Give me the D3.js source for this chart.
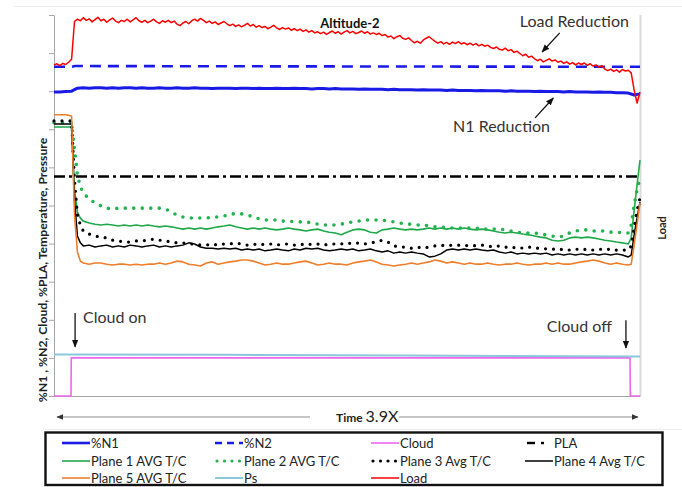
<!DOCTYPE html>
<html>
<head>
<meta charset="utf-8">
<script src="https://cdn.jsdelivr.net/npm/d3@7/dist/d3.min.js"></script>
<style>
  html, body { margin: 0; padding: 0; background: #fff; }
  svg { display: block; font-family: Lato, "Open Sans", "Liberation Sans", sans-serif; }
</style>
</head>
<body>
<svg id="chart" width="682" height="487"></svg>
<script>
// ---------------- data (time as % of run, values on the 0-100 chart scale) ----------------
const loadStep = 0.5;   // Load sampled every 0.5 time units
const n1Step = 1;       // %N1 sampled every time unit

const load = [
  86.9, 87.2, 86.7, 87.3, 87.0, 87.6, 88.4, 98.3, 98.9, 98.5,
  99.3, 98.6, 99.0, 98.2, 98.8, 99.4, 98.5, 98.9, 98.1, 98.7,
  99.2, 98.4, 98.0, 98.6, 98.3, 98.9, 98.2, 98.7, 99.3, 98.5,
  98.1, 98.6, 98.0, 98.4, 98.9, 98.2, 97.8, 98.5, 98.1, 98.6,
  98.0, 98.4, 97.6, 97.2, 97.9, 98.3, 97.7, 98.5, 98.9, 98.4,
  99.1, 98.6, 98.0, 98.4, 97.8, 98.2, 97.5, 97.9, 98.3, 97.7,
  97.2, 97.6, 97.0, 97.4, 96.9, 97.3, 97.8, 97.1, 97.5, 96.8,
  97.2, 96.7, 97.0, 96.4, 96.8, 97.3, 96.6, 96.2, 96.7, 96.3,
  96.6, 96.0, 96.4, 95.9, 96.3, 95.7, 96.1, 95.5, 95.9, 95.3,
  95.6, 95.1, 95.5, 94.9, 95.4, 95.8, 95.2, 95.6, 95.0, 95.5,
  95.9, 95.3, 95.7, 95.1, 95.4, 95.8, 95.2, 95.6, 95.0, 95.3,
  94.9, 95.2, 94.6, 94.9, 94.2, 94.5, 93.8, 94.3, 94.6, 93.9,
  93.6, 94.0, 93.3, 92.7, 93.1, 92.6, 93.4, 93.9, 94.3, 93.7,
  93.1, 92.6, 93.0, 92.4, 92.8, 92.3, 92.9, 92.5, 93.0, 92.4,
  92.7, 92.2, 92.6, 92.1, 92.5, 91.9, 92.3, 91.8, 92.1, 91.5,
  91.2, 91.6, 91.0, 90.8, 91.3, 90.6, 90.9, 90.2, 90.5, 89.9,
  89.3, 89.7, 88.9, 89.2, 88.5, 88.0, 88.4, 87.7, 88.1, 88.5,
  87.9, 88.2, 87.6, 87.9, 87.3, 87.7, 87.1, 87.5, 86.9, 87.4,
  87.0, 87.4, 86.8, 87.2, 86.6, 86.9, 86.3, 86.7, 85.8, 85.4,
  85.8, 85.2, 85.6, 85.0, 85.7, 85.3, 85.5, 84.8, 80.3, 76.9,
  79.8
];

const n1 = [
  79.8, 79.8, 79.9, 80.0, 80.8, 80.9, 80.8, 80.9, 80.9, 80.8,
  80.9, 80.8, 80.9, 80.9, 80.8, 80.9, 80.8, 80.8, 80.9, 80.8,
  80.8, 80.9, 80.8, 80.8, 80.9, 80.8, 80.8, 80.7, 80.8, 80.8,
  80.8, 80.7, 80.8, 80.8, 80.7, 80.8, 80.7, 80.7, 80.8, 80.7,
  80.7, 80.8, 80.7, 80.7, 80.6, 80.7, 80.7, 80.6, 80.7, 80.6,
  80.6, 80.6, 80.5, 80.6, 80.5, 80.5, 80.5, 80.4, 80.5, 80.4,
  80.4, 80.4, 80.3, 80.4, 80.3, 80.3, 80.3, 80.2, 80.3, 80.2,
  80.2, 80.2, 80.1, 80.2, 80.1, 80.1, 80.1, 80.0, 80.1, 80.0,
  80.0, 80.0, 79.9, 80.0, 79.9, 79.9, 79.9, 79.8, 79.9, 79.8,
  79.8, 79.8, 79.7, 79.8, 79.7, 79.7, 79.6, 79.6, 79.5, 79.0,
  79.3
];

const n2Time = [0, 3, 3.6, 50, 100];
const n2 = [86.4, 86.4, 86.6, 86.5, 86.4];

const plaTime = [0, 100];
const pla = [57.6, 57.6];

const cloudTime = [0, 2.9, 2.95, 98.3, 98.35, 100];
const cloud = [0, 0, 10, 10, 0, 0];

const psTime = [0, 30, 60, 100];
const ps = [10.9, 10.8, 10.6, 10.35];

// thermocouple planes share one time base (denser around the cloud on/off steps)
const tempTime = [
  0, 1, 2, 3, 3.5, 4, 4.5,
  5, 6, 7, 8, 9, 10, 11, 12, 13, 14, 15, 16, 17, 18, 19, 20, 21, 22, 23, 24,
  25, 26, 27, 28, 29, 30, 31, 32, 33, 34, 35, 36, 37, 38, 39, 40, 41, 42, 43, 44,
  45, 46, 47, 48, 49, 50, 51, 52, 53, 54, 55, 56, 57, 58, 59, 60, 61, 62, 63, 64,
  65, 66, 67, 68, 69, 70, 71, 72, 73, 74, 75, 76, 77, 78, 79, 80, 81, 82, 83, 84,
  85, 86, 87, 88, 89, 90, 91, 92, 93, 94, 95, 96, 97,
  98, 98.5, 99, 99.5, 100
];

const plane1 = [
  70.6, 70.6, 70.6, 70.6, 54.1, 48.3, 46.7,
  45.9, 45.4, 45.1, 44.9, 45.1, 44.9, 44.6, 44.9, 44.6, 44.9,
  44.6, 44.9, 44.6, 44.4, 44.6, 44.4, 44.1, 43.8, 44.1, 43.8,
  44.1, 43.8, 44.1, 44.4, 44.6, 44.9, 44.4, 44.1, 43.8, 44.1,
  43.8, 44.1, 43.8, 43.6, 43.8, 44.1, 43.8, 43.6, 43.3, 43.6,
  43.8, 43.3, 43.0, 42.8, 42.3, 43.0, 43.6, 43.8, 43.6, 43.0,
  42.8, 43.6, 43.8, 44.1, 43.8, 43.6, 43.8, 43.6, 43.8, 44.1,
  43.8, 44.1, 43.8, 44.1, 43.8, 44.1, 43.8, 43.6, 43.8, 43.6,
  43.3, 43.0, 42.8, 43.0, 42.8, 42.5, 42.3, 42.0, 41.7, 41.5,
  40.9, 40.7, 40.9, 41.5, 41.7, 41.5, 41.7, 41.5, 41.2, 40.9,
  40.7, 40.4, 40.2,
  39.9, 41.5, 48.8, 55.4, 61.9
];

const plane2 = [
  71.7, 71.7, 71.7, 71.7, 64.6, 58.0, 54.9,
  53.3, 51.7, 50.7, 49.9, 49.3, 49.1, 49.3, 49.3, 49.3, 49.3,
  49.3, 49.3, 49.3, 49.3, 49.1, 48.3, 47.5, 47.0, 46.7, 46.7,
  46.7, 46.7, 47.0, 47.0, 47.2, 47.8, 47.8, 47.8, 47.5, 47.0,
  46.5, 46.2, 46.2, 46.2, 45.9, 45.9, 45.7, 45.7, 45.7, 45.4,
  45.1, 44.9, 44.9, 44.9, 45.1, 45.4, 45.7, 45.9, 46.2, 46.2,
  46.2, 46.2, 45.9, 45.7, 45.4, 45.1, 45.1, 44.9, 44.9, 44.6,
  44.4, 44.4, 44.1, 44.1, 44.1, 44.1, 44.1, 44.1, 43.8, 43.8,
  43.8, 43.8, 43.6, 43.3, 43.0, 42.8, 42.8, 42.8, 42.5, 42.3,
  42.0, 41.7, 42.0, 42.8, 43.3, 43.6, 43.6, 43.3, 43.3, 43.3,
  43.0, 43.0, 42.8,
  42.8, 44.9, 50.1, 54.1, 57.2
];

const plane3 = [
  72.2, 72.2, 72.2, 72.2, 56.7, 47.5, 44.9,
  43.3, 42.5, 42.0, 41.7, 41.5, 40.9, 40.7, 40.4, 40.4, 40.7,
  40.7, 40.9, 41.2, 40.9, 40.7, 40.4, 40.2, 40.2, 39.9, 39.9,
  39.6, 39.6, 39.9, 39.6, 39.9, 39.9, 40.2, 39.9, 39.6, 39.9,
  39.6, 39.9, 39.9, 39.6, 39.9, 39.9, 39.6, 39.9, 39.6, 39.9,
  39.9, 39.6, 39.9, 39.9, 39.9, 40.2, 39.9, 40.2, 39.9, 40.2,
  40.4, 40.9, 40.4, 39.4, 39.1, 39.1, 38.8, 39.1, 38.8, 39.1,
  39.4, 39.6, 39.4, 39.6, 39.6, 39.4, 39.6, 39.4, 39.6, 39.4,
  39.1, 39.4, 39.1, 38.8, 39.1, 38.8, 39.1, 38.8, 38.8, 38.6,
  38.6, 38.3, 38.6, 38.3, 38.6, 38.3, 38.6, 38.3, 38.6, 38.3,
  38.6, 38.3, 38.3,
  38.3, 39.4, 44.1, 48.8, 52.0
];

const plane4 = [
  71.4, 71.4, 71.4, 71.4, 51.4, 42.0, 40.2,
  39.4, 39.6, 39.1, 39.4, 39.6, 39.1, 39.4, 39.1, 39.6, 39.4,
  39.1, 39.4, 39.6, 39.1, 39.4, 39.1, 39.4, 39.6, 40.2, 39.9,
  39.1, 38.8, 38.8, 38.6, 38.8, 38.6, 38.8, 38.3, 38.6, 38.3,
  38.6, 38.1, 38.3, 38.6, 38.3, 38.1, 38.6, 38.3, 38.8, 38.6,
  38.8, 38.3, 38.1, 38.3, 38.6, 38.3, 38.6, 38.1, 38.3, 38.6,
  38.1, 37.8, 38.1, 37.5, 37.8, 37.5, 37.8, 37.5, 37.3, 36.5,
  36.7, 37.3, 38.3, 38.6, 38.3, 38.6, 38.3, 38.6, 38.3, 38.1,
  38.3, 37.8, 37.5, 37.8, 37.3, 37.5, 37.3, 37.5, 37.3, 37.5,
  37.0, 37.3, 37.0, 37.3, 37.0, 37.3, 37.0, 37.3, 37.0, 37.3,
  37.0, 37.3, 37.0,
  36.5, 37.0, 42.3, 46.7, 50.9
];

const plane5 = [
  73.8, 73.8, 73.8, 73.5, 47.5, 37.8, 35.4,
  34.9, 34.6, 34.9, 34.9, 34.6, 34.4, 34.6, 34.6, 34.4, 34.6,
  34.4, 34.6, 34.6, 34.9, 34.6, 34.9, 35.4, 35.2, 34.6, 34.4,
  34.1, 34.9, 35.2, 34.6, 34.9, 35.2, 35.4, 35.7, 35.7, 35.4,
  34.9, 34.4, 34.6, 34.9, 34.6, 34.6, 34.9, 35.2, 35.4, 34.9,
  34.4, 34.6, 34.9, 34.6, 34.6, 34.4, 34.9, 35.2, 35.4, 35.7,
  35.2, 34.6, 34.4, 34.1, 34.4, 34.6, 34.9, 34.6, 34.9, 35.2,
  35.7, 35.4, 34.9, 35.2, 34.9, 34.6, 34.9, 34.6, 34.6, 34.9,
  34.6, 34.4, 34.6, 34.6, 34.9, 34.6, 34.4, 34.6, 34.6, 34.9,
  34.6, 34.9, 34.6, 34.6, 34.9, 35.2, 35.4, 35.7, 35.4, 34.9,
  34.6, 34.9, 34.6,
  34.4, 34.6, 39.6, 45.1, 50.7
];

const yTicks = [0, 10, 20, 30, 40, 50, 60, 70, 80, 90, 100];

// ---------------- styling ----------------
const series = [
  { name: "%N1",             t: n1.map((_, i) => i * n1Step), v: n1, color: "#1a1ae6", width: 3 },
  { name: "%N2",             t: n2Time,  v: n2,     color: "#1a1ae6", width: 2.6, dash: "11,7" },
  { name: "Cloud",           t: cloudTime, v: cloud, color: "#ee66ee", width: 1.6 },
  { name: "PLA",             t: plaTime, v: pla,    color: "#000000", width: 2.4, dash: "11,4,3,4" },
  { name: "Plane 1 AVG T/C", t: tempTime, v: plane1, color: "#1fa84a", width: 1.6 },
  { name: "Plane 2 AVG T/C", t: tempTime, v: plane2, color: "#22b34e", width: 3.6, dash: "0,8.5", cap: "round" },
  { name: "Plane 3 Avg T/C", t: tempTime, v: plane3, color: "#000000", width: 3.2, dash: "0,8", cap: "round" },
  { name: "Plane 4 Avg T/C", t: tempTime, v: plane4, color: "#000000", width: 1.5 },
  { name: "Plane 5 AVG T/C", t: tempTime, v: plane5, color: "#ef7d2a", width: 1.6 },
  { name: "Ps",              t: psTime,  v: ps,     color: "#8cc6dc", width: 2 },
  { name: "Load",            t: load.map((_, i) => i * loadStep), v: load, color: "#ff0000", width: 1.5 }
];

// ---------------- layout ----------------
const svg = d3.select("#chart");
const x = d3.scaleLinear().domain([0, 100]).range([54, 640]);
const y = d3.scaleLinear().domain([0, 100]).range([396, 15]);

const defs = svg.append("defs");
function marker(id, color, size) {
  defs.append("marker")
    .attr("id", id)
    .attr("viewBox", "0 0 10 10")
    .attr("refX", 9).attr("refY", 5)
    .attr("markerUnits", "userSpaceOnUse")
    .attr("markerWidth", size).attr("markerHeight", size)
    .attr("orient", "auto")
    .append("path").attr("d", "M0,1L10,5L0,9z").attr("fill", color);
}
marker("arrowBlack", "#111", 8);
marker("arrowGray", "#333", 7);

// faint frame lines of the figure
svg.append("line").attr("x1", 14).attr("x2", 682).attr("y1", 6.5).attr("y2", 6.5)
  .attr("stroke", "#ececec").attr("stroke-width", 1);
svg.append("line").attr("x1", 45).attr("x2", 682).attr("y1", 429.5).attr("y2", 429.5)
  .attr("stroke", "#ececec").attr("stroke-width", 1);

// axes
const yAxis = svg.append("g").attr("transform", "translate(54,0)")
  .call(d3.axisLeft(y).tickValues(yTicks).tickSize(5).tickSizeOuter(0).tickFormat(""));
yAxis.selectAll("path, line").attr("stroke", "#a6a6a6").attr("stroke-width", 1);

const xAxis = svg.append("g").attr("transform", "translate(0,396)")
  .call(d3.axisBottom(x).tickValues([]).tickSizeOuter(0));
xAxis.selectAll("path").attr("stroke", "#a6a6a6").attr("stroke-width", 1.2);

svg.append("line")
  .attr("x1", x(100) + 0.5).attr("x2", x(100) + 0.5).attr("y1", y(100)).attr("y2", y(0))
  .attr("stroke", "#d9d9d9").attr("stroke-width", 2);

// series
const lineGen = d3.line().x(d => x(d[0])).y(d => y(d[1]));
series.forEach(s => {
  const pts = s.t.map((t, i) => [t, s.v[i]]);
  svg.append("path")
    .datum(pts)
    .attr("d", lineGen)
    .attr("fill", "none")
    .attr("stroke", s.color)
    .attr("stroke-width", s.width)
    .attr("stroke-linejoin", "round")
    .attr("stroke-linecap", s.cap || "butt")
    .attr("stroke-dasharray", s.dash || null);
});

// annotations
const noteColor = "#333";
function note(txt, t, v, opts = {}) {
  svg.append("text")
    .attr("x", x(t)).attr("y", y(v))
    .attr("text-anchor", opts.anchor || "start")
    .attr("font-size", opts.size || 16)
    .attr("font-weight", opts.weight || "normal")
    .attr("fill", opts.color || noteColor)
    .text(txt);
}
function arrow(t1, v1, t2, v2) {
  svg.append("line")
    .attr("x1", x(t1)).attr("y1", y(v1)).attr("x2", x(t2)).attr("y2", y(v2))
    .attr("stroke", "#111").attr("stroke-width", 1.3)
    .attr("marker-end", "url(#arrowBlack)");
}

note("Altitude-2", 50.5, 96.6, { anchor: "middle", size: 13, weight: "bold", color: "#111" });
note("Load Reduction", 79.5, 96.85);
arrow(86.3, 95.3, 83.3, 90.3);
note("N1 Reduction", 68.1, 69.3);
arrow(82.1, 73.0, 85.2, 78.2);
note("Cloud on", 4.95, 19.2);
arrow(3.6, 21.8, 3.6, 12.9);
note("Cloud off", 84.1, 16.8);
arrow(97.6, 19.9, 97.6, 12.6);

// axis titles
svg.append("text")
  .attr("transform", "translate(47,270) rotate(-90)")
  .attr("text-anchor", "middle")
  .attr("font-size", 12.2).attr("font-weight", "bold").attr("fill", "#222")
  .text("%N1 , %N2, Cloud, %PLA, Temperature, Pressure");

svg.append("text")
  .attr("transform", "translate(666,228) rotate(-90)")
  .attr("text-anchor", "middle")
  .attr("font-size", 11).attr("font-weight", "bold").attr("fill", "#222")
  .text("Load");

// time arrow beneath the plot
svg.append("line").attr("x1", 310).attr("x2", 57).attr("y1", 417).attr("y2", 417)
  .attr("stroke", "#8c8c8c").attr("stroke-width", 1.2).attr("marker-end", "url(#arrowGray)");
svg.append("line").attr("x1", 399).attr("x2", 638).attr("y1", 417).attr("y2", 417)
  .attr("stroke", "#8c8c8c").attr("stroke-width", 1.2).attr("marker-end", "url(#arrowGray)");
const timeLabel = svg.append("text").attr("x", 336).attr("y", 422).attr("fill", "#222");
timeLabel.append("tspan").attr("font-size", 12).attr("font-weight", "bold").text("Time ");
timeLabel.append("tspan").attr("font-size", 16).text("3.9X");

// legend
svg.append("rect")
  .attr("x", 45.5).attr("y", 432.5).attr("width", 617).attr("height", 52.5)
  .attr("fill", "none").attr("stroke", "#111").attr("stroke-width", 2.4);

const legendCols = [62, 215, 371, 525];
const legendRows = [443, 461, 478];
series.forEach((s, i) => {
  const cx = legendCols[i % 4];
  const cy = legendRows[Math.floor(i / 4)];
  const g = svg.append("g");
  if (s.name === "PLA") {
    g.append("line").attr("x1", cx + 2).attr("x2", cx + 10).attr("y1", cy).attr("y2", cy)
      .attr("stroke", s.color).attr("stroke-width", 2.4);
    g.append("line").attr("x1", cx + 16).attr("x2", cx + 19).attr("y1", cy).attr("y2", cy)
      .attr("stroke", s.color).attr("stroke-width", 2.4);
  } else {
    const legDash = s.name === "%N2" ? "7,5" : (s.cap ? "0,7.5" : null);
    g.append("line").attr("x1", s.cap ? cx + 2 : cx).attr("x2", cx + 28).attr("y1", cy).attr("y2", cy)
      .attr("stroke", s.color)
      .attr("stroke-width", s.cap ? 3.2 : Math.min(s.width, 2.6))
      .attr("stroke-linecap", s.cap || "butt")
      .attr("stroke-dasharray", legDash);
  }
  g.append("text")
    .attr("x", cx + 29).attr("y", cy + 4.5)
    .attr("font-size", 13).attr("fill", "#222")
    .text(s.name);
});
</script>
</body>
</html>
